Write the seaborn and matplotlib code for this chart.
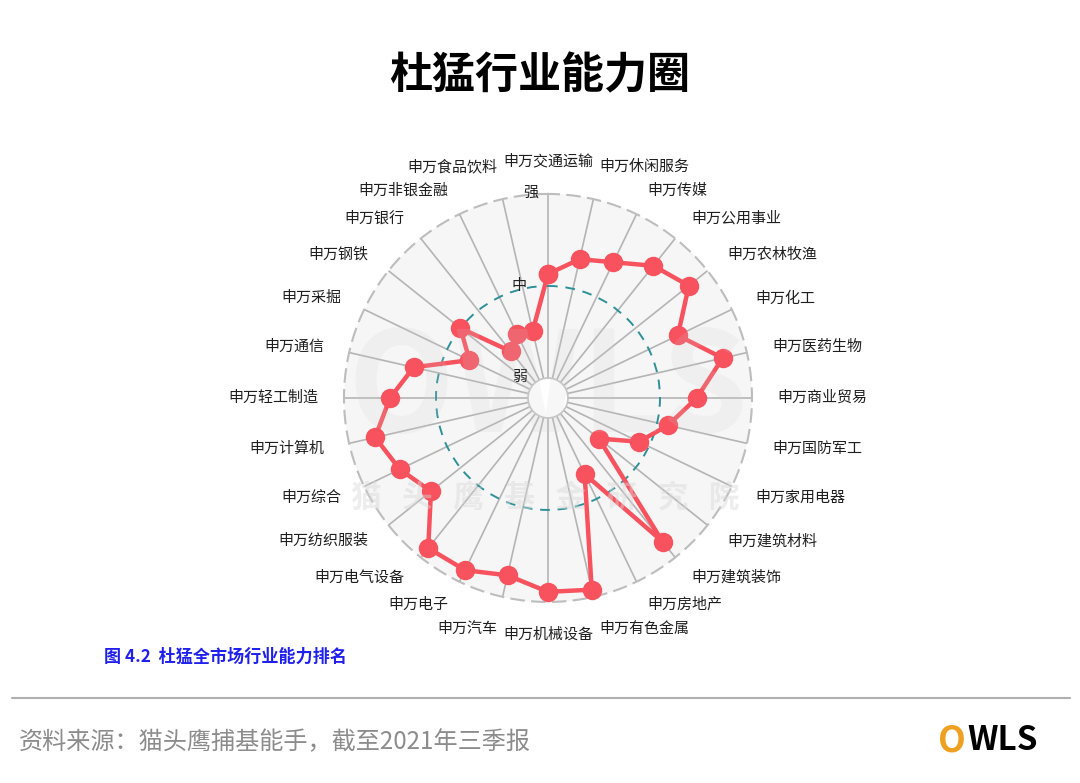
import numpy as np
import pandas as pd
import seaborn as sns
import matplotlib.pyplot as plt

sns.set_theme(style="white")
plt.rcParams['font.family'] = ['Noto Sans CJK SC', 'DejaVu Sans']

# industries, clockwise from the top
industries = ["申万交通运输", "申万休闲服务", "申万传媒", "申万公用事业", "申万农林牧渔",
              "申万化工", "申万医药生物", "申万商业贸易", "申万国防军工", "申万家用电器",
              "申万建筑材料", "申万建筑装饰", "申万房地产", "申万有色金属", "申万机械设备",
              "申万汽车", "申万电子", "申万电气设备", "申万纺织服装", "申万综合",
              "申万计算机", "申万轻工制造", "申万通信", "申万采掘", "申万钢铁",
              "申万银行", "申万非银金融", "申万食品饮料"]
# ability score: 0 = 弱, 1 = 中, 2 = 强
scores = [1.13, 1.33, 1.42, 1.62, 1.74,
          1.35, 1.73, 1.40, 1.12, 0.88,
          0.49, 1.78, 0.70, 1.92, 1.89,
          1.76, 1.86, 1.87, 1.41, 1.57,
          1.71, 1.50, 1.28, 0.73, 1.00,
          0.43, 0.56, 0.53]
level_labels = ["弱", "中", "强"]
level_values = [0, 1, 2]

red = "#f7525e"
teal = "#2e9099"

n = len(industries)
theta = np.arange(n) * 2 * np.pi / n
df = pd.DataFrame({"theta": theta, "score": scores, "industry": industries})
closed = pd.concat([df, df.iloc[:1]], ignore_index=True)

fig = plt.figure(figsize=(10.8, 7.83), dpi=100)
ax = fig.add_axes([0.3185, 0.2312, 0.3778, 0.5211], projection="polar")
ax.set_theta_zero_location("N")
ax.set_theta_direction(-1)
ax.set_ylim(0, 2)
ax.set_rorigin(-0.217)
ax.set_facecolor("#f6f6f6")

# spokes
ax.set_xticks(theta)
ax.set_xticklabels([])
ax.xaxis.grid(True, color="#b4b4b4", lw=1.2)
# middle ring
ax.set_yticks([1])
ax.set_yticklabels([])
ax.yaxis.grid(True, color=teal, lw=1.4, ls=(0, (5, 4)))
ax.spines["polar"].set_color("#bdbdbd")
ax.spines["polar"].set_linewidth(1.5)
ax.spines["polar"].set_linestyle((0, (6, 4)))
ax.spines["inner"].set_color("#c4c4c4")
ax.spines["inner"].set_linewidth(1.2)

sns.lineplot(data=closed, x="theta", y="score", ax=ax, sort=False, estimator=None,
             color=red, lw=3.2, marker="o", markersize=14, markeredgewidth=0,
             zorder=5, clip_on=False)
ax.set_xlabel("")
ax.set_ylabel("")

# category labels around the ring
for t, name in zip(theta, industries):
    s, c = np.sin(t), np.cos(t)
    ha = "center" if abs(s) < 0.05 else ("left" if s > 0 else "right")
    va = "center"
    if c > 0.97:
        va = "bottom"
    elif c < -0.97:
        va = "top"
    ax.text(t, 2.28, name, ha=ha, va=va, fontsize=10.8, color="#1e1e1e")

# 弱 / 中 / 强
offsets = [(-28, 1), (-29, 0), (-17, 1)]
for lab, v, off in zip(level_labels, level_values, offsets):
    ax.annotate(lab, xy=(0, v), xytext=off, textcoords="offset pixels",
                ha="center", va="center", fontsize=10.8, color="#1e1e1e", zorder=6)

# faint watermark
fig.text(0.505, 0.365, "猫   头   鹰   基   金   研   究   院", ha="center", va="center",
         fontsize=22, fontweight="bold", color="#d8d8d8", alpha=0.45, zorder=10)
fig.text(0.507, 0.5, "OWLS", ha="center", va="center", fontsize=100,
         fontweight="bold", color="#cfcfcf", alpha=0.16, zorder=10)

fig.text(0.5, 0.904, "杜猛行业能力圈", ha="center", va="center",
         fontsize=31, fontweight="bold", color="black")
fig.text(0.096, 0.161, "图 4.2  杜猛全市场行业能力排名", ha="left", va="center",
         fontsize=12.3, fontweight="bold", color="#2020ee")
fig.add_artist(plt.Line2D([0.011, 0.991], [0.109, 0.109], color="#b0b0b0", lw=1.5))
fig.text(0.017, 0.052, "资料来源：猫头鹰捕基能手，截至2021年三季报", ha="left", va="center",
         fontsize=17.4, color="#8c8c8c")
# logo
fig.text(0.881, 0.054, "O", ha="center", va="center", fontsize=26, fontweight="bold",
         color="#f0a020")
fig.text(0.896, 0.054, "WLS", ha="left", va="center", fontsize=24, fontweight="bold",
         color="black")

fig.savefig("out.png", dpi=100)
